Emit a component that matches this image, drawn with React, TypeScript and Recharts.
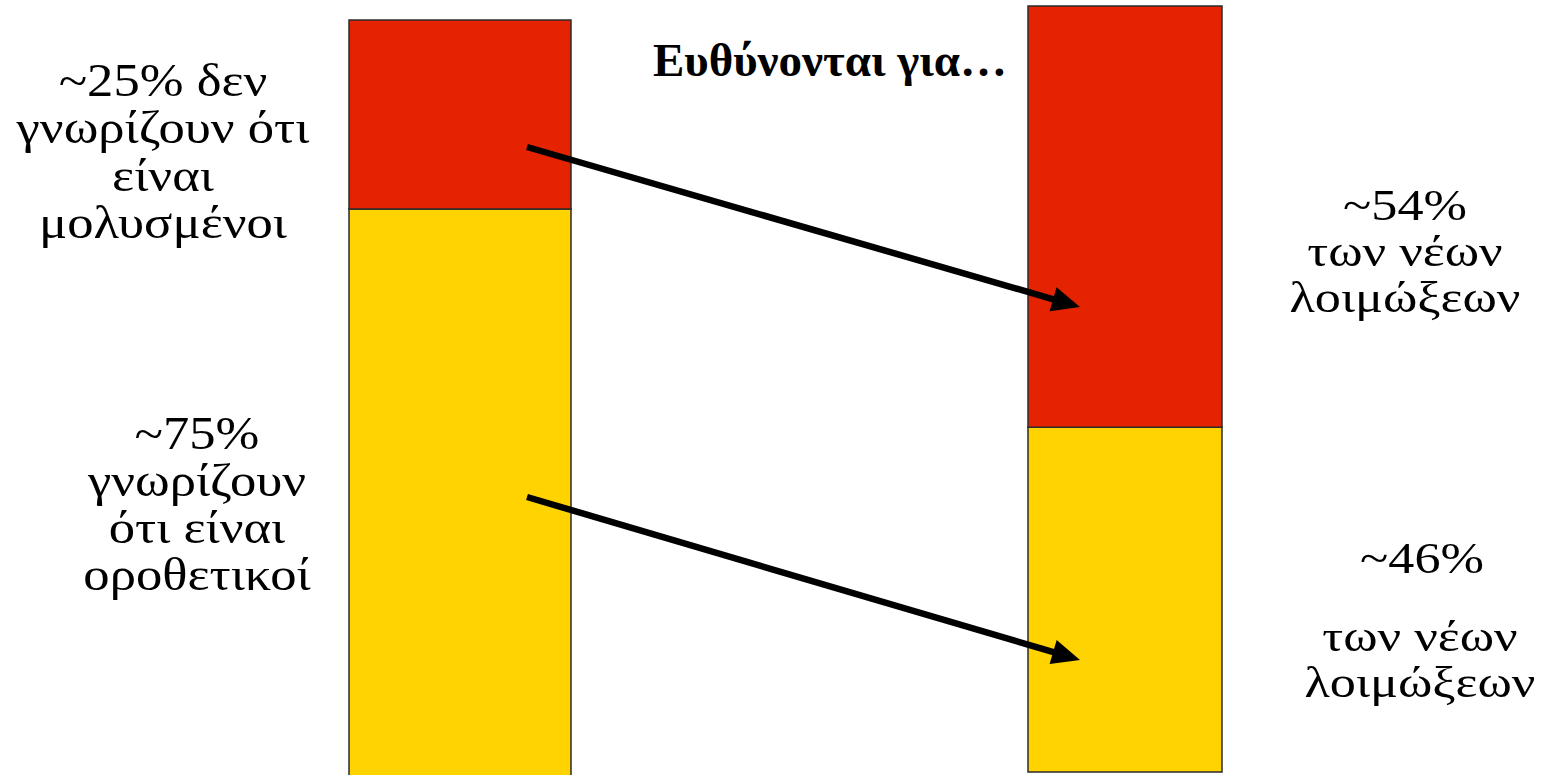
import React from "react";
import { BarChart, Bar, XAxis, YAxis } from "recharts";

// ---- data ----
const categories = ["Οροθετικοί", "Νέες λοιμώξεις"];
const unawareShare = [25, 55]; // red segments (top)
const awareShare = [75, 45]; // yellow segments (bottom)

const leftLabelLines = ["~25% δεν", "γνωρίζουν ότι", "είναι", "μολυσμένοι"];
const leftLowerLabelLines = ["~75%", "γνωρίζουν", "ότι είναι", "οροθετικοί"];
const rightUpperLabelLines = ["~54%", "των νέων", "λοιμώξεων"];
const rightLowerLabelLines = ["~46%", "των νέων", "λοιμώξεων"];
const titleText = "Ευθύνονται για…";

const RED = "#E52300";
const YELLOW = "#FFD300";
const EDGE = "#2b2b2b";
const SERIF = "Liberation Serif, Tinos, Times New Roman, serif";

const leftData = [{ name: categories[0], unaware: unawareShare[0], aware: awareShare[0] }];
const rightData = [{ name: categories[1], unaware: unawareShare[1], aware: awareShare[1] }];

type Pt = [number, number];
const arrows: { from: Pt; to: Pt }[] = [
  { from: [527, 147], to: [1080, 307] },
  { from: [527, 497], to: [1080, 660] },
];

function Arrow({ from, to }: { from: Pt; to: Pt }) {
  const H = 28;
  const W = 25;
  const dx = to[0] - from[0];
  const dy = to[1] - from[1];
  const len = Math.sqrt(dx * dx + dy * dy);
  const ux = dx / len;
  const uy = dy / len;
  const nx = -uy;
  const ny = ux;
  const bx = to[0] - ux * H;
  const by = to[1] - uy * H;
  const pts = [
    [to[0], to[1]],
    [bx + (nx * W) / 2, by + (ny * W) / 2],
    [bx - (nx * W) / 2, by - (ny * W) / 2],
  ]
    .map((p) => p.join(","))
    .join(" ");
  return (
    <g>
      <line x1={from[0]} y1={from[1]} x2={bx + ux * 3} y2={by + uy * 3} stroke="#000" strokeWidth={6.5} />
      <polygon points={pts} fill="#000" />
    </g>
  );
}

function TextBlock({
  lines,
  x,
  y0,
  dy,
  size = 47,
  stretch = 1.12,
}: {
  lines: string[];
  x: number;
  y0: number;
  dy: number;
  size?: number;
  stretch?: number;
}) {
  return (
    <g transform={`translate(${x},0) scale(${stretch},1)`}>
      <text style={{ fontFamily: SERIF, fontSize: size, fontWeight: 400 }} fill="#000" textAnchor="middle">
        {lines.map((l, i) => (
          <tspan key={i} x={0} y={y0 + i * dy}>
            {l}
          </tspan>
        ))}
      </text>
    </g>
  );
}

function StackBar({ data, width, height }: { data: any[]; width: number; height: number }) {
  return (
    <BarChart
      width={width}
      height={height}
      data={data}
      margin={{ top: 1, right: 1, bottom: 1, left: 1 }}
      barCategoryGap={0}
      barGap={0}
    >
      <XAxis dataKey="name" hide />
      <YAxis hide domain={[0, 100]} />
      <Bar dataKey="aware" stackId="s" fill={YELLOW} stroke={EDGE} strokeWidth={1.5} isAnimationActive={false} />
      <Bar dataKey="unaware" stackId="s" fill={RED} stroke={EDGE} strokeWidth={1.5} isAnimationActive={false} />
    </BarChart>
  );
}

export default function App() {
  return (
    <div
      style={{
        position: "absolute",
        left: 0,
        top: 0,
        width: 1549,
        height: 775,
        background: "#fff",
        overflow: "hidden",
      }}
    >
      <div style={{ position: "absolute", left: 348, top: 19 }}>
        <StackBar data={leftData} width={224} height={758} />
      </div>
      <div style={{ position: "absolute", left: 1027, top: 5 }}>
        <StackBar data={rightData} width={196} height={768} />
      </div>
      <svg
        width={1549}
        height={775}
        style={{ position: "absolute", left: 0, top: 0, pointerEvents: "none" }}
      >
        <TextBlock lines={leftLabelLines} x={163} y0={96} dy={47.5} />
        <TextBlock lines={leftLowerLabelLines} x={197} y0={449} dy={47} />
        <TextBlock lines={rightUpperLabelLines} x={1405} y0={220} dy={46} size={45} stretch={1.16} />
        <TextBlock lines={[rightLowerLabelLines[0]]} x={1422} y0={573} dy={0} size={45} stretch={1.16} />
        <TextBlock lines={rightLowerLabelLines.slice(1)} x={1420} y0={651} dy={46} size={45} stretch={1.16} />
        <text
          x={830}
          y={76}
          style={{ fontFamily: SERIF, fontSize: 47, fontWeight: "bold" }}
          textAnchor="middle"
          fill="#000"
        >
          {titleText}
        </text>
        {arrows.map((a, i) => (
          <Arrow key={i} from={a.from} to={a.to} />
        ))}
      </svg>
    </div>
  );
}
